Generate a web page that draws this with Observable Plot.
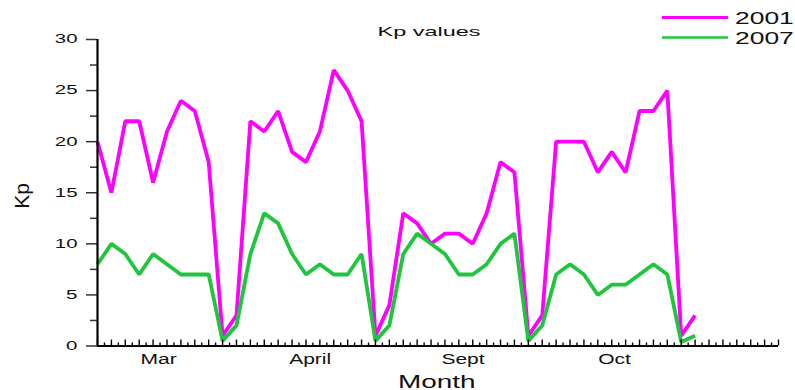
<!DOCTYPE html>
<html>
<head>
<meta charset="utf-8">
<script src="https://cdn.jsdelivr.net/npm/d3@7"></script>
<script src="https://cdn.jsdelivr.net/npm/@observablehq/plot@0.6"></script>
<style>
  html, body { margin: 0; padding: 0; background: #fff; }
  #chart svg { display: block; }
</style>
</head>
<body>
<div id="chart"></div>
<script>
// Daily Kp sums, four months of days laid end to end
const kp2001 = [20,15,22,22,16,21,24,23,18,1,3, 22,21,23,19,18,21,27,25,22,1,4,
                13,12,10,11,11,10,13,18,17,1,3, 20,20,20,17,19,17,23,23,25,1,3];
const kp2007 = [8,10,9,7,9,8,7,7,7,0.5,2, 9,13,12,9,7,8,7,7,9,0.5,2,
                9,11,10,9,7,7,8,10,11,0.5,2, 7,8,7,5,6,6,7,8,7,0.4,1];

const months = ["Mar", "April", "Sept", "Oct"];
const monthAt = [4.4, 15.3, 26.3, 37.2];      // day index under each month name
const yMajor = d3.range(0, 31, 5);
const yMinor = d3.range(2.5, 30, 5);
const xMajor = d3.range(0, 50, 1);
const xMinor = d3.range(0.5, 49, 1);

const series = [
  {label: "2001", color: "#ff00ff", values: kp2001},
  {label: "2007", color: "#1fc63d", values: kp2007}
];

const W = 795, H = 390;
const mL = 97, mR = 17, mT = 39, mB = 44.5;
const fw = W - mL - mR, fh = H - mT - mB;
const font = "'Liberation Sans', Arial, Helvetica, sans-serif";

const plot = Plot.plot({
  width: W, height: H,
  marginLeft: mL, marginRight: mR, marginTop: mT, marginBottom: mB,
  style: {fontFamily: font, fontSize: "12px", color: "#000", background: "#fff", overflow: "visible"},
  x: {domain: [0, 49], axis: null},
  y: {domain: [0, 30], axis: null},
  marks: [
    ...series.map(s => Plot.lineY(s.values, {
      x: (d, i) => i, y: d => d,
      stroke: s.color, strokeWidth: 3.8, strokeLinejoin: "miter", strokeLinecap: "butt"
    })),
    // small upward ticks along the day axis
    Plot.tickX(xMajor, {x: d => d, insetTop: fh - 6, stroke: "#000", strokeWidth: 1.4}),
    Plot.tickX(xMinor, {x: d => d, insetTop: fh - 3, stroke: "#000", strokeWidth: 1.4}),
    // outward ticks on the Kp axis
    Plot.tickY(yMajor, {y: d => d, insetLeft: -11, insetRight: fw, stroke: "#333", strokeWidth: 1.5}),
    Plot.tickY(yMinor, {y: d => d, insetLeft: -7, insetRight: fw, stroke: "#333", strokeWidth: 1.5}),
    Plot.ruleX([0], {y1: 0, y2: 30, stroke: "#000", strokeWidth: 2.2}),
    Plot.ruleY([0], {x1: 0, x2: 49, stroke: "#000", strokeWidth: 2.2}),
    Plot.text(yMajor, {y: d => d, frameAnchor: "left", dx: -20, textAnchor: "end", fontSize: 12, fill: "#111"}),
    Plot.text(months, {x: (d, i) => monthAt[i], frameAnchor: "bottom", dy: 18, fontSize: 14, fill: "#111"})
  ]
});

document.getElementById("chart").append(plot);

const svg = d3.select(plot);
const texts = plot.querySelectorAll('g[aria-label="text"]');
d3.select(texts[0]).selectAll("text").attr("data-sx", 1.7);
d3.select(texts[1]).selectAll("text").attr("data-sx", 1.5);

// title
svg.append("text")
  .attr("x", 429).attr("y", 36).attr("text-anchor", "middle")
  .attr("font-family", font).attr("font-size", 13).attr("fill", "#111")
  .attr("data-sx", 1.8)
  .text("Kp values");

// axis titles
svg.append("text")
  .attr("x", 398).attr("y", 388).attr("text-anchor", "start")
  .attr("font-family", font).attr("font-size", 18).attr("fill", "#111")
  .attr("data-sx", 1.55)
  .text("Month");

svg.append("text")
  .attr("transform", "translate(29,196) rotate(-90)")
  .attr("text-anchor", "middle")
  .attr("font-family", font).attr("font-size", 21).attr("fill", "#111")
  .text("Kp");

// legend
const legend = svg.append("g");
series.forEach((s, i) => {
  const y = 17.5 + i * 20;
  legend.append("line")
    .attr("x1", 662).attr("x2", 728).attr("y1", y).attr("y2", y)
    .attr("stroke", s.color).attr("stroke-width", i === 0 ? 3 : 2.5);
  legend.append("text")
    .attr("x", 735).attr("y", y + 6.5).attr("text-anchor", "start")
    .attr("font-family", font).attr("font-size", 16.5).attr("fill", "#111")
    .attr("data-sx", 1.6)
    .text(s.label);
});

// widen the lettering horizontally
plot.querySelectorAll("text[data-sx]").forEach(t => {
  const len = t.getComputedTextLength();
  if (len > 0) {
    t.setAttribute("textLength", (len * +t.getAttribute("data-sx")).toFixed(1));
    t.setAttribute("lengthAdjust", "spacingAndGlyphs");
  }
});
</script>
</body>
</html>
